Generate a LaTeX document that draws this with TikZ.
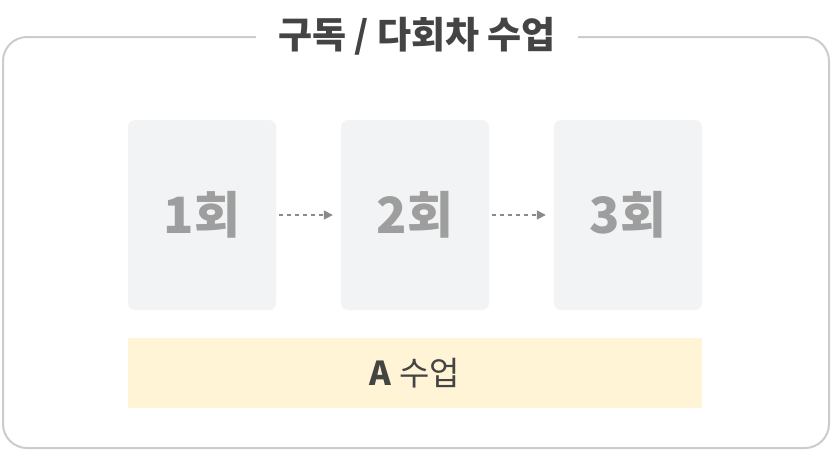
\documentclass[tikz,border=0pt]{standalone}
\usepackage{fontspec}
\newfontfamily\kr{Noto Sans CJK KR}
\usetikzlibrary{arrows.meta}
\definecolor{frame}{HTML}{CCCCCC}
\definecolor{boxfill}{HTML}{F2F3F5}
\definecolor{numtxt}{HTML}{9E9E9E}
\definecolor{dark}{HTML}{444444}
\definecolor{bar}{HTML}{FFF4D6}
\definecolor{arr}{HTML}{8A8A8A}
\begin{document}
\begin{tikzpicture}[x=1pt,y=-1pt,
  sess/.style={fill=boxfill,rounded corners=7pt,minimum width=148pt,minimum height=190pt,inner sep=0pt,
    font=\kr\bfseries\fontsize{50}{56}\selectfont,text=numtxt},
  flow/.style={arr,line width=1.6pt,dash pattern=on 4pt off 4pt,-{Triangle[length=9pt,width=9pt]}}]
\useasboundingbox (0,0) rectangle (832,451);
\fill[white] (0,0) rectangle (832,451);
\draw[frame,line width=2pt,rounded corners=24pt] (3,37) rectangle (829,448);
\node[fill=white,inner xsep=22pt,font=\kr\bfseries\fontsize{37}{42}\selectfont,text=dark] (title) at (417,36) {구독 / 다회차 수업};
\node[sess] (s1) at (202,215) {1회};
\node[sess] (s2) at (415,215) {2회};
\node[sess] (s3) at (628,215) {3회};
\draw[flow] ([xshift=3pt]s1.east) -- ([xshift=-8pt]s2.west);
\draw[flow] ([xshift=3pt]s2.east) -- ([xshift=-8pt]s3.west);
\node[fill=bar,minimum width=574pt,minimum height=70pt,inner sep=0pt,font=\kr\fontsize{33}{38}\selectfont,text=dark] (a) at (415,373) {\textbf{A} 수업};
\end{tikzpicture}
\end{document}
